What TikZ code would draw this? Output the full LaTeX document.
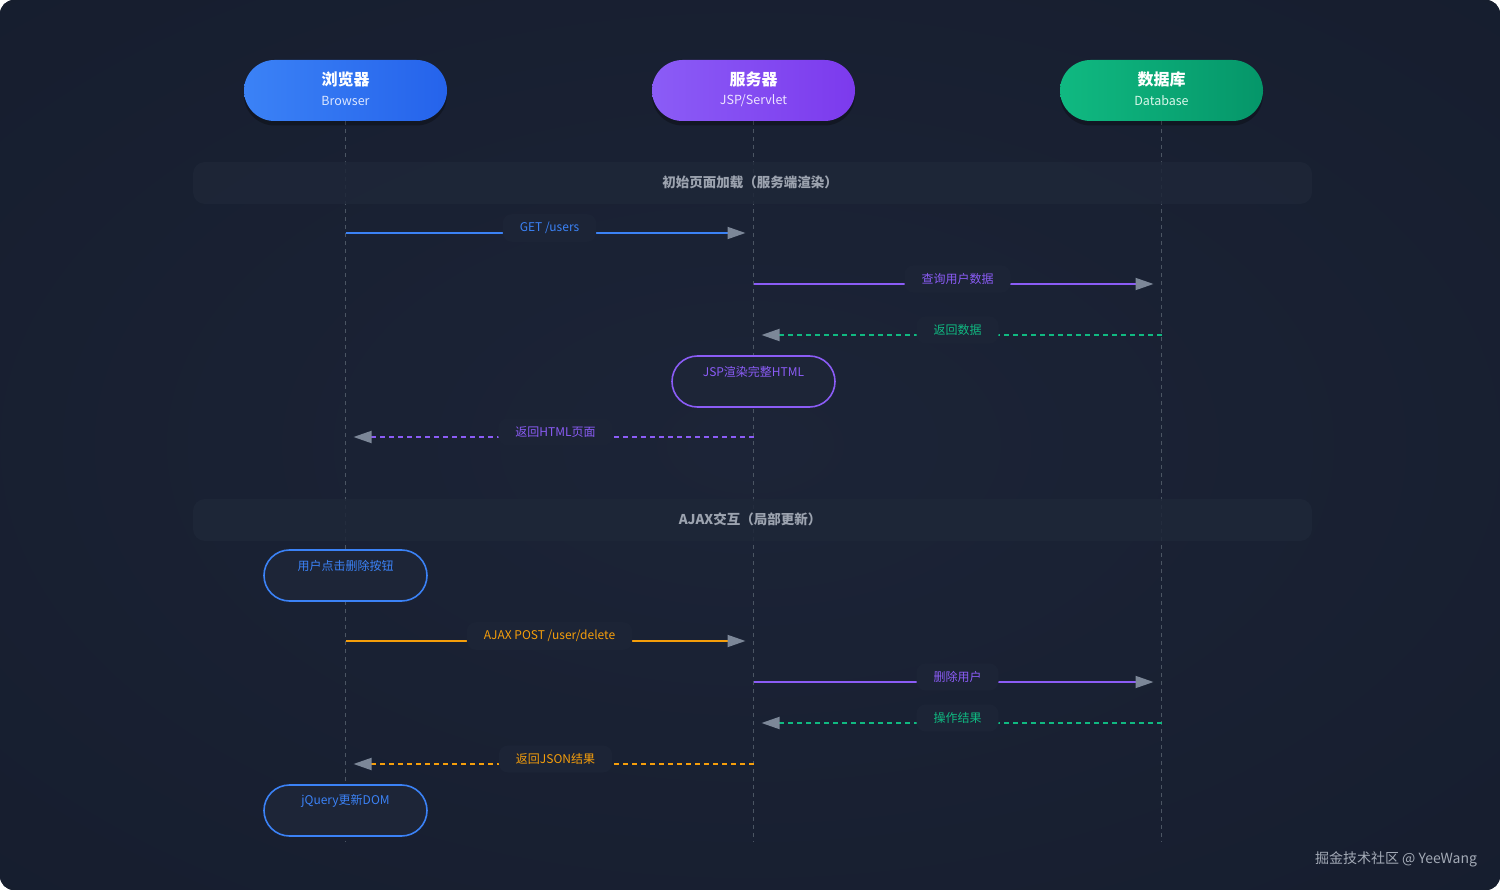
\documentclass[tikz,border=0pt]{standalone}
\usepackage{fontspec}
\setmainfont{Noto Sans CJK SC}
\usetikzlibrary{arrows.meta,shapes.misc,calc}
\definecolor{bg}{HTML}{141B2B}
\definecolor{bglight}{HTML}{1C2437}
\definecolor{band}{HTML}{1E2738}
\definecolor{lblbg}{HTML}{1C2436}
\definecolor{notebg}{HTML}{1D2537}
\definecolor{lifeline}{HTML}{4B5563}
\definecolor{tipgray}{HTML}{7C8798}
\definecolor{cblue}{HTML}{3B82F6}
\definecolor{cblue2}{HTML}{2563EB}
\definecolor{cpurple}{HTML}{8B5CF6}
\definecolor{cpurple2}{HTML}{7C3AED}
\definecolor{cgreen}{HTML}{10B981}
\definecolor{cgreen2}{HTML}{059669}
\definecolor{corange}{HTML}{F59E0B}
\definecolor{sectxt}{HTML}{9CA3AF}
\definecolor{wmtxt}{HTML}{A3AAB6}
\definecolor{subblue}{HTML}{DCE7FF}
\definecolor{subpurple}{HTML}{EDE4FF}
\definecolor{subgreen}{HTML}{D9F7EA}
\begin{document}
\begin{tikzpicture}[x=1pt,y=-1pt,
  header/.style={rounded rectangle, minimum width=203pt, minimum height=61pt, inner sep=0pt, shading angle=120},
  hshadow/.style={rounded rectangle, minimum width=203pt, minimum height=61pt, fill=black, fill opacity=0.28, inner sep=0pt},
  htitle/.style={text=white, font=\bfseries\fontsize{16}{18}\selectfont},
  hsub/.style={font=\fontsize{12.5}{14}\selectfont},
  life/.style={draw=lifeline, line width=1.2pt, dash pattern=on 4pt off 4pt},
  bandbox/.style={fill=band, fill opacity=0.85, rounded corners=12pt},
  sectitle/.style={text=sectxt, font=\bfseries\fontsize{13.5}{16}\selectfont},
  msg/.style={line width=1.8pt, shorten >=8pt, -{Triangle[length=18pt,width=12pt,color=tipgray]}},
  ret/.style={msg, dash pattern=on 5pt off 4pt},
  lbl/.style={fill=lblbg, rounded corners=9pt, inner xsep=17pt, inner ysep=8pt, font=\fontsize{12}{14}\selectfont},
  note/.style={rounded rectangle, minimum width=163pt, minimum height=51pt, fill=notebg, line width=1.6pt, inner sep=0pt},
  notetxt/.style={font=\fontsize{12}{14}\selectfont}
]
\useasboundingbox (0,0) rectangle (1500,890);
\fill[white] (0,0) rectangle (1500,890);
\begin{scope}
  \clip[rounded corners=14pt] (0,0) rectangle (1500,890);
  \fill[bg] (0,0) rectangle (1500,890);
  \shade[inner color=bglight, outer color=bg] (-750,-420) rectangle (2250,1310);
\end{scope}

% lifelines
\coordinate (bt) at (345.5,121);
\coordinate (st) at (753.5,121);
\coordinate (dt) at (1161.5,121);
\coordinate (bb) at (345.5,842);
\coordinate (sb) at (753.5,842);
\coordinate (db) at (1161.5,842);
\draw[life] (bt) -- (bb);
\draw[life] (st) -- (sb);
\draw[life] (dt) -- (db);

% headers
\node[hshadow] (bsh) at (345.5,95) {};
\node[hshadow] (ssh) at (753.5,95) {};
\node[hshadow] (dsh) at (1161.5,95) {};
\node[header, left color=cblue, right color=cblue2] (browser) at (345.5,90.5) {};
\node[header, left color=cpurple, right color=cpurple2] (server) at (753.5,90.5) {};
\node[header, left color=cgreen, right color=cgreen2] (dbase) at (1161.5,90.5) {};
\node[htitle] (bt1) at ([yshift=11.5pt]browser.center) {浏览器};
\node[hsub, text=subblue] (bt2) at ([yshift=-10.5pt]browser.center) {Browser};
\node[htitle] (st1) at ([yshift=11.5pt]server.center) {服务器};
\node[hsub, text=subpurple] (st2) at ([yshift=-10.5pt]server.center) {JSP/Servlet};
\node[htitle] (dt1) at ([yshift=11.5pt]dbase.center) {数据库};
\node[hsub, text=subgreen] (dt2) at ([yshift=-10.5pt]dbase.center) {Database};

% section bands
\fill[bandbox] (193,162) rectangle (1312,204);
\node[sectitle] (sec1) at (750,182) {初始页面加载（服务端渲染）};
\fill[bandbox] (193,499) rectangle (1312,541);
\node[sectitle] (sec2) at (750,519) {AJAX交互（局部更新）};

% message anchors
\coordinate (b1) at (345.5,233); \coordinate (s1) at (753.5,233);
\coordinate (s2) at (753.5,284); \coordinate (d2) at (1161.5,284);
\coordinate (d3) at (1161.5,335); \coordinate (s3) at (753.5,335);
\coordinate (s5) at (753.5,437); \coordinate (b5) at (345.5,437);
\coordinate (b7) at (345.5,641); \coordinate (s7) at (753.5,641);
\coordinate (s8) at (753.5,682); \coordinate (d8) at (1161.5,682);
\coordinate (d9) at (1161.5,723); \coordinate (s9) at (753.5,723);
\coordinate (s10) at (753.5,764); \coordinate (b10) at (345.5,764);

% messages
\draw[msg, draw=cblue] (b1) -- (s1);
\node[lbl, text=cblue] (l1) at (549.5,228) {GET /users};

\draw[msg, draw=cpurple] (s2) -- (d2);
\node[lbl, text=cpurple] (l2) at (957.5,279) {查询用户数据};

\draw[ret, draw=cgreen] (d3) -- (s3);
\node[lbl, text=cgreen] (l3) at (957.5,330) {返回数据};

\node[note, draw=cpurple] (n1) at (753.5,381.5) {};
\node[notetxt, text=cpurple] (n1t) at ([yshift=9.5pt]n1.center) {JSP渲染完整HTML};

\draw[ret, draw=cpurple] (s5) -- (b5);
\node[lbl, text=cpurple] (l5) at (555.5,432) {返回HTML页面};

\node[note, draw=cblue] (n2) at (345.5,575.5) {};
\node[notetxt, text=cblue] (n2t) at ([yshift=9.5pt]n2.center) {用户点击删除按钮};

\draw[msg, draw=corange] (b7) -- (s7);
\node[lbl, text=corange] (l7) at (549.5,636) {AJAX POST /user/delete};

\draw[msg, draw=cpurple] (s8) -- (d8);
\node[lbl, text=cpurple] (l8) at (957.5,677) {删除用户};

\draw[ret, draw=cgreen] (d9) -- (s9);
\node[lbl, text=cgreen] (l9) at (957.5,718) {操作结果};

\draw[ret, draw=corange] (s10) -- (b10);
\node[lbl, text=corange] (l10) at (555.5,759) {返回JSON结果};

\node[note, draw=cblue] (n3) at (345.5,810.5) {};
\node[notetxt, text=cblue] (n3t) at ([yshift=9.5pt]n3.center) {jQuery更新DOM};

% watermark
\node[text=wmtxt, font=\fontsize{14}{16}\selectfont] (wm) at (1396,859) {掘金技术社区 @ YeeWang};
\end{tikzpicture}
\end{document}
